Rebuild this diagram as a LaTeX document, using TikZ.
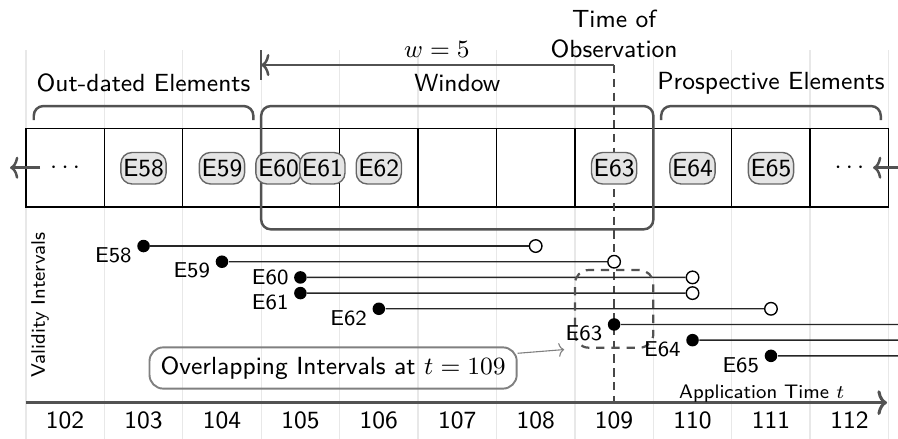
\documentclass[tikz,border=0pt]{standalone}
\usetikzlibrary{arrows.meta}
\begin{document}
\begin{tikzpicture}[x=1cm,y=1cm,
  font=\sffamily\fontsize{9}{11}\selectfont,
  gridline/.style={draw=black!9, line width=0.5pt},
  cell/.style={draw=black, line width=0.5pt, minimum width=1cm, minimum height=1cm, inner sep=0pt, outer sep=0pt},
  elem/.style={draw=black!60, fill=black!10, rounded corners=4pt, line width=0.5pt, inner xsep=0.8pt, inner ysep=2.5pt, minimum width=0.55cm},
  winbox/.style={draw=black!68, rounded corners=3.5pt, line width=0.9pt, inner sep=0pt},
  bracket/.style={draw=black!68, rounded corners=3.5pt, line width=0.9pt},
  garrow/.style={draw=black!68, line width=0.9pt, -{To[length=3pt,width=8pt]}},
  dot/.style={circle, fill=black, inner sep=0pt, minimum size=0.16cm},
  odot/.style={circle, draw=black, fill=white, line width=0.5pt, inner sep=0pt, minimum size=0.16cm},
  ivl/.style={draw=black!85, line width=0.5pt},
  ilabel/.style={font=\sffamily\fontsize{7.8}{9}\selectfont, inner sep=0pt},
  dashbox/.style={draw=black!68, dash pattern=on 3pt off 2.5pt, rounded corners=5pt, line width=0.8pt, inner sep=0pt},
  obsline/.style={draw=black!72, dash pattern=on 3pt off 2pt, line width=0.6pt},
  ovnode/.style={draw=black!50, rounded corners=5pt, line width=0.7pt, minimum height=0.5cm, inner xsep=4pt},
  axis/.style={draw=black!68, line width=1.1pt, -{To[length=3.5pt,width=9pt]}}
]
\useasboundingbox (101.171,0) rectangle (112.621,-5.597);

% background grid
\foreach \g in {101.5,102.5,...,112.5}
  \draw[gridline] (\g,-0.6375) -- (\g,-5.597);

% stream cells
\foreach \t in {102,...,112}
  \node[cell] (c\t) at (\t,-2.138) {};
\node (dl) at (102,-2.138) {$\cdots$};
\node (dr) at (112,-2.138) {$\cdots$};

% stream direction
\coordinate (la0) at (101.681,-2.138);
\coordinate (la1) at (101.298,-2.138);
\draw[garrow] (la0) -- (la1);
\coordinate (ra0) at (112.65,-2.138);
\coordinate (ra1) at (112.302,-2.138);
\draw[garrow] (ra0) -- (ra1);

% window frame
\node[winbox, minimum width=5cm, minimum height=1.572cm] (win) at (107,-2.138) {};

% window size and time of observation
\coordinate (wr) at (109,-0.829);
\coordinate (wl) at (104.5,-0.829);
\coordinate (wbt) at (104.5,-0.6375);
\coordinate (wbb) at (104.5,-1.02);
\coordinate (ob) at (109,-5.17);
\draw[obsline] (wr) -- (ob);
\draw[garrow] (wr) -- (wl);
\draw[draw=black!68, line width=0.9pt] (wbt) -- (wbb);
\node (wlbl) at (106.74,-0.625) {$w=5$};
\node[align=center] (tobs) at (109,-0.434) {Time of\\Observation};

% elements in the stream
\node[elem] (E58) at (103,-2.145) {E58};
\node[elem] (E59) at (104,-2.145) {E59};
\node[elem] (E60) at (104.72,-2.145) {E60};
\node[elem] (E61) at (105.28,-2.145) {E61};
\node[elem] (E62) at (106,-2.145) {E62};
\node[elem] (E63) at (109,-2.145) {E63};
\node[elem] (E64) at (110,-2.145) {E64};
\node[elem] (E65) at (111,-2.145) {E65};

% brackets and their captions
\draw[bracket] (101.6,-1.53) -- (101.6,-1.352) -- (104.4,-1.352) -- (104.4,-1.53);
\draw[bracket] (109.6,-1.53) -- (109.6,-1.352) -- (112.4,-1.352) -- (112.4,-1.53);
\node (lout) at (103,-1.058) {Out-dated Elements};
\node (lwin) at (107,-1.058) {Window};
\node (lpro) at (111,-1.058) {Prospective Elements};

% validity intervals
\node[rotate=90, ilabel, font=\sffamily\fontsize{7.1}{9}\selectfont] (vint) at (101.68,-3.889) {Validity Intervals};

\foreach \n/\s/\k in {58/103/0,59/104/1,60/105/2,61/105/3,62/106/4,63/109/5,64/110/6,65/111/7}
  \node[dot] (s\n) at (\s,-3.137-0.2*\k) {};
\node[odot] (e58) at (108,-3.137) {};
\node[odot] (e59) at (109,-3.337) {};
\node[odot] (e60) at (110,-3.537) {};
\node[odot] (e61) at (110,-3.737) {};
\node[odot] (e62) at (111,-3.937) {};
\coordinate (e63) at (112.65,-4.137);
\coordinate (e64) at (112.65,-4.337);
\coordinate (e65) at (112.65,-4.537);
\foreach \n in {58,...,65}
  \draw[ivl] (s\n) -- (e\n);

% overlapping intervals
\node[dashbox, minimum width=1cm, minimum height=0.99cm] (ovbox) at (109,-3.938) {};
\node[ovnode] (ov) at (105.417,-4.692) {Overlapping Intervals at $t=109$};
\draw[draw=black!50, line width=0.4pt, -{To[length=2pt,width=5pt]}, shorten >=3.5pt] (ov) -- (ovbox.south west);

\foreach \n in {58,59,61,62,63,64,65}
  \node[ilabel] (l\n) at ([shift={(-0.385,-0.115)}]s\n.center) {E\n};
\node[ilabel] (l60) at ([shift={(-0.385,0.005)}]s60.center) {E60};

% time axis
\coordinate (ax0) at (101.5,-5.134);
\coordinate (ax1) at (112.48,-5.134);
\draw[axis] (ax0) -- (ax1);
\node[font=\sffamily\fontsize{7.1}{9}\selectfont] (atime) at (110.883,-5.015) {Application Time $t$};
\foreach \t in {102,...,112}
  \node (tk\t) at (\t,-5.355) {\t};
\end{tikzpicture}
\end{document}
